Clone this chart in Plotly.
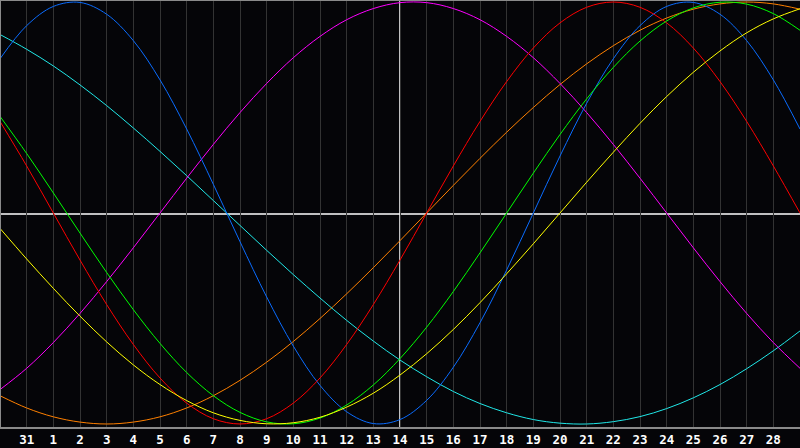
import plotly.graph_objects as go

# day slots: slot 0 = Jan 30 ... slot 30 = Mar 1
days = list(range(31))
tick_slots = list(range(1, 30))
tick_labels = ["31"] + [str(d) for d in range(1, 29)]

red = [0.434, 0.223, 0, -0.223, -0.434, -0.623, -0.782, -0.901, -0.975, -1, -0.975, -0.901, -0.782, -0.623, -0.434,
       -0.223, 0, 0.223, 0.434, 0.623, 0.782, 0.901, 0.975, 1, 0.975, 0.901, 0.782, 0.623, 0.434, 0.223, 0]
green = [0.458, 0.282, 0.095, -0.095, -0.282, -0.458, -0.618, -0.756, -0.866, -0.945, -0.990, -0.999, -0.972, -0.910,
         -0.815, -0.690, -0.541, -0.372, -0.189, 0, 0.189, 0.372, 0.541, 0.690, 0.815, 0.910, 0.972, 0.999, 0.990,
         0.945, 0.866]
blue = [0.731, 0.888, 0.979, 0.998, 0.942, 0.817, 0.631, 0.398, 0.136, -0.136, -0.398, -0.631, -0.817, -0.942, -0.998,
        -0.979, -0.888, -0.731, -0.520, -0.270, 0, 0.270, 0.520, 0.731, 0.888, 0.979, 0.998, 0.942, 0.817, 0.631, 0.398]
cyan = [0.846, 0.776, 0.697, 0.607, 0.509, 0.403, 0.292, 0.177, 0.059, -0.059, -0.177, -0.292, -0.403, -0.509, -0.607,
        -0.697, -0.776, -0.846, -0.903, -0.947, -0.979, -0.996, -1.000, -0.989, -0.965, -0.927, -0.876, -0.813, -0.738,
        -0.653, -0.559]
magenta = [-0.837, -0.736, -0.614, -0.476, -0.325, -0.165, 0, 0.165, 0.325, 0.476, 0.614, 0.736, 0.837, 0.916, 0.969,
           0.997, 0.997, 0.969, 0.916, 0.837, 0.736, 0.614, 0.476, 0.325, 0.165, 0, -0.165, -0.325, -0.476, -0.614,
           -0.736]
yellow = [-0.073, -0.218, -0.357, -0.489, -0.611, -0.720, -0.813, -0.889, -0.947, -0.983, -0.999, -0.994, -0.968, -0.920,
          -0.854, -0.768, -0.667, -0.552, -0.425, -0.288, -0.146, 0, 0.146, 0.288, 0.425, 0.552, 0.667, 0.768, 0.854,
          0.920, 0.968]
orange = [-0.866, -0.924, -0.966, -0.991, -1, -0.991, -0.966, -0.924, -0.866, -0.793, -0.707, -0.609, -0.5, -0.383,
          -0.259, -0.131, 0, 0.131, 0.259, 0.383, 0.5, 0.609, 0.707, 0.793, 0.866, 0.924, 0.966, 0.991, 1, 0.991, 0.966]

series = [
    (orange, "#ff8000"),
    (cyan, "#20e8e8"),
    (magenta, "#ff00ff"),
    (blue, "#0a6cff"),
    (red, "#ff0000"),
    (green, "#00ff00"),
    (yellow, "#ffff00"),
]

fig = go.Figure()
for vals, color in series:
    fig.add_trace(go.Scatter(
        x=days, y=vals,
        mode="lines",
        line=dict(color=color, width=1, shape="spline"),
        hoverinfo="skip",
        showlegend=False
    ))

# centre cross
fig.add_shape(type="line", xref="paper", yref="y", x0=0, x1=1, y0=-0.005, y1=-0.005,
              line=dict(color="#ffffff", width=1.5), layer="below")
fig.add_shape(type="line", xref="x", yref="paper", x0=15, x1=15, y0=0, y1=1,
              line=dict(color="#ffffff", width=1.5), layer="below")
# frame: left, top, bottom
for x0, y0, x1, y1 in [(0, 0, 0, 1), (0, 1, 1, 1), (0, 0, 1, 0)]:
    fig.add_shape(type="line", xref="paper", yref="paper", x0=x0, y0=y0, x1=x1, y1=y1,
                  line=dict(color="#8a8a8a", width=2))

fig.update_layout(
    width=800, height=448,
    margin=dict(l=0, r=0, t=0, b=20),
    paper_bgcolor="#050508",
    plot_bgcolor="#050508",
    xaxis=dict(
        range=[0, 30],
        tickvals=tick_slots,
        ticktext=tick_labels,
        showgrid=True,
        gridcolor="#333333",
        gridwidth=1,
        zeroline=False,
        ticks="",
        ticklabelstandoff=2,
        tickfont=dict(family="DejaVu Sans Mono", size=12.5, color="#ffffff", weight="bold"),
        fixedrange=True
    ),
    yaxis=dict(
        range=[-1.019, 1.0095],
        showgrid=False,
        zeroline=False,
        showticklabels=False,
        fixedrange=True
    ),
)

fig.write_html("out.html", config={"displayModeBar": False},
               post_script="document.body.style.margin='0';document.body.style.background='#050508';")
